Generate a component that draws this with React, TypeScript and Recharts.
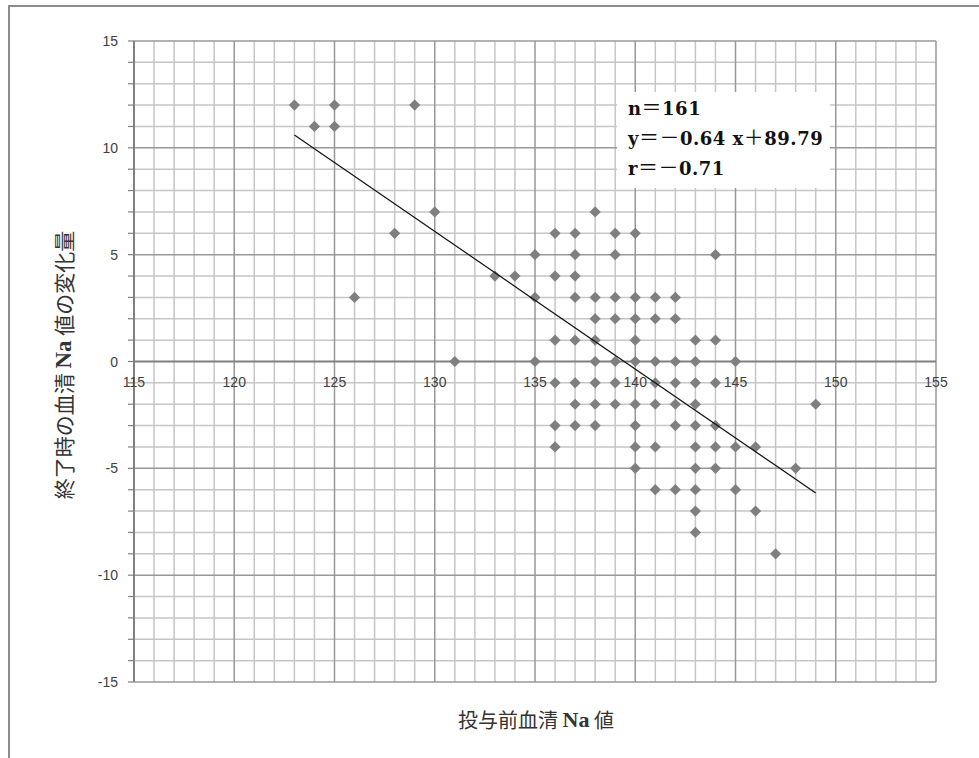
import React from 'react';
import {
  ScatterChart,
  Scatter,
  XAxis,
  YAxis,
  ReferenceLine,
  ReferenceDot,
} from 'recharts';

// Change in serum Na at end (y) grouped by level, with pre-dose serum Na values (x)
const changeLevels = [12, 11, 7, 6, 5, 4, 3, 2, 1, 0, -1, -2, -3, -4, -5, -6, -7, -8, -9];
const preNaAtLevel = [
  [123, 125, 129],
  [124, 125],
  [130, 138],
  [128, 136, 137, 139, 140],
  [135, 137, 139, 144],
  [133, 134, 136, 137],
  [126, 135, 137, 138, 139, 140, 141, 142],
  [138, 139, 140, 141, 142],
  [136, 137, 138, 140, 143, 144],
  [131, 135, 138, 139, 140, 141, 142, 143, 145],
  [136, 137, 138, 139, 141, 142, 143, 144],
  [137, 138, 139, 140, 141, 142, 143, 149],
  [136, 137, 138, 140, 142, 143, 144],
  [136, 140, 141, 143, 144, 145, 146],
  [140, 143, 144, 148],
  [141, 142, 143, 145],
  [143, 146],
  [143],
  [147],
];

// Trend line endpoints as drawn
const trendPreNa = [123, 149];
const trendChange = [10.6, -6.15];

const xTicks = [115, 120, 125, 130, 135, 140, 145, 150, 155];
const yLabelTicks = [-15, -10, -5, 0, 5, 10, 15];
const xMinor = Array.from({ length: 41 }, (_, i) => 115 + i);
const yMinor = Array.from({ length: 31 }, (_, i) => -15 + i);

const statLines = ['n＝161', 'y＝－0.64 x＋89.79', 'r＝－0.71'];
const xTitle = ['投与前血清 ', 'Na', ' 値'];
const yTitle = ['終了時の血清 ', 'Na', ' 値の変化量'];

const points = changeLevels.flatMap((lv, i) => preNaAtLevel[i].map((x) => ({ x, y: lv })));
const trend = trendPreNa.map((x, i) => ({ x, y: trendChange[i] }));

const Diamond = (p: any) => {
  const { cx, cy } = p;
  if (cx == null || cy == null) return <g />;
  const r = 5.6;
  return (
    <path
      d={`M${cx},${cy - r}L${cx + r},${cy}L${cx},${cy + r}L${cx - r},${cy}Z`}
      fill="#7f7f7f"
    />
  );
};

const YTick = (p: any) => {
  const { x, y, payload } = p;
  if (!yLabelTicks.includes(payload.value)) return <g />;
  return (
    <text
      x={x}
      y={y}
      dy="0.36em"
      textAnchor="end"
      fontSize={14}
      fontFamily="Liberation Sans, Arial, sans-serif"
      fill="#404040"
    >
      {payload.value}
    </text>
  );
};

const CJK = "'Noto Sans CJK JP', sans-serif";
const SERIF = "'Liberation Serif', serif";
const STAT_SERIF = "'DejaVu Serif', serif";

const splitWide = (s: string) => {
  const parts: { t: string; wide: boolean }[] = [];
  for (const ch of s) {
    const wide = ch.charCodeAt(0) >= 0xff00;
    const last = parts[parts.length - 1];
    if (last && last.wide === wide) last.t += ch;
    else parts.push({ t: ch, wide });
  }
  return parts;
};

export default function App() {
  return (
    <div
      style={{
        position: 'fixed',
        left: 8,
        top: 5,
        width: 971,
        height: 753,
        overflow: 'hidden',
        background: '#fff',
      }}
    >
      <div
        style={{
          position: 'absolute',
          left: 0,
          top: 0,
          width: 1000,
          height: 1000,
          borderTop: '2px solid #8c8c8c',
          borderLeft: '2px solid #8c8c8c',
          boxSizing: 'border-box',
        }}
      />
      <div style={{ position: 'absolute', left: 0, top: 0 }}>
        <ScatterChart
          width={971}
          height={753}
          margin={{ top: 36, right: 43, bottom: 76, left: 0 }}
        >
          <XAxis
            type="number"
            dataKey="x"
            domain={[115, 155]}
            ticks={xTicks}
            hide
            height={0}
          />
          <YAxis
            type="number"
            dataKey="y"
            domain={[-15, 15]}
            ticks={yMinor}
            interval={0}
            width={126}
            tickSize={6}
            tickMargin={10}
            tick={<YTick />}
            axisLine={{ stroke: '#808080', strokeWidth: 2 }}
            tickLine={{ stroke: '#808080', strokeWidth: 1.2 }}
          />
          {xMinor
            .filter((v) => !xTicks.includes(v))
            .map((v) => (
              <ReferenceLine key={'vx' + v} x={v} stroke="#c6c6c6" strokeWidth={1.5} />
            ))}
          {yMinor
            .filter((v) => !yLabelTicks.includes(v))
            .map((v) => (
              <ReferenceLine key={'hy' + v} y={v} stroke="#c6c6c6" strokeWidth={1.5} />
            ))}
          {xTicks
            .filter((v) => v !== 115)
            .map((v) => (
              <ReferenceLine key={'VX' + v} x={v} stroke="#989898" strokeWidth={1.5} />
            ))}
          {yLabelTicks
            .filter((v) => v !== 0)
            .map((v) => (
              <ReferenceLine key={'HY' + v} y={v} stroke="#989898" strokeWidth={1.5} />
            ))}
          <ReferenceLine y={0} stroke="#808080" strokeWidth={2} />
          {xTicks.map((v) => (
            <ReferenceDot
              key={v}
              x={v}
              y={0}
              r={0}
              stroke="none"
              fill="none"
              label={{
                value: v,
                position: 'bottom',
                offset: 16,
                fontSize: 14,
                fill: '#404040',
                fontFamily: 'Liberation Sans, Arial, sans-serif',
              }}
            />
          ))}
          <Scatter data={points} shape={Diamond} isAnimationActive={false} />
          <Scatter
            data={trend}
            shape={() => <g />}
            line={{ stroke: '#111', strokeWidth: 1.2 }}
            isAnimationActive={false}
          />
        </ScatterChart>
      </div>
      <svg
        width={971}
        height={753}
        style={{ position: 'absolute', left: 0, top: 0, pointerEvents: 'none' }}
      >
        <rect x={609} y={87} width={213} height={96} fill="#fff" />
        {statLines.map((s, i) => (
          <text
            key={i}
            x={620}
            y={110 + i * 30}
            fontSize={18}
            fontWeight="bold"
            fontFamily={STAT_SERIF}
            fill="#111"
            letterSpacing={0.5}
            style={{ whiteSpace: 'pre' }}
          >
            {splitWide(s).map((p, j) =>
              p.wide ? (
                <tspan key={j} fontFamily={CJK} fontWeight="normal" fontSize={20}>
                  {p.t}
                </tspan>
              ) : (
                <tspan key={j}>{p.t}</tspan>
              )
            )}
          </text>
        ))}
        <text
          x={528}
          y={714}
          textAnchor="middle"
          dominantBaseline="central"
          fontSize={20}
          fill="#333"
          fontFamily={CJK}
          style={{ whiteSpace: 'pre' }}
        >
          <tspan>{xTitle[0]}</tspan>
          <tspan fontFamily={SERIF} fontWeight="bold" fontSize={22}>
            {xTitle[1]}
          </tspan>
          <tspan>{xTitle[2]}</tspan>
        </text>
        <text
          transform="translate(55,360) rotate(-90)"
          textAnchor="middle"
          dominantBaseline="central"
          fontSize={21}
          fill="#333"
          fontFamily={CJK}
          style={{ whiteSpace: 'pre' }}
        >
          <tspan>{yTitle[0]}</tspan>
          <tspan fontFamily={SERIF} fontWeight="bold" fontSize={23}>
            {yTitle[1]}
          </tspan>
          <tspan>{yTitle[2]}</tspan>
        </text>
      </svg>
    </div>
  );
}
